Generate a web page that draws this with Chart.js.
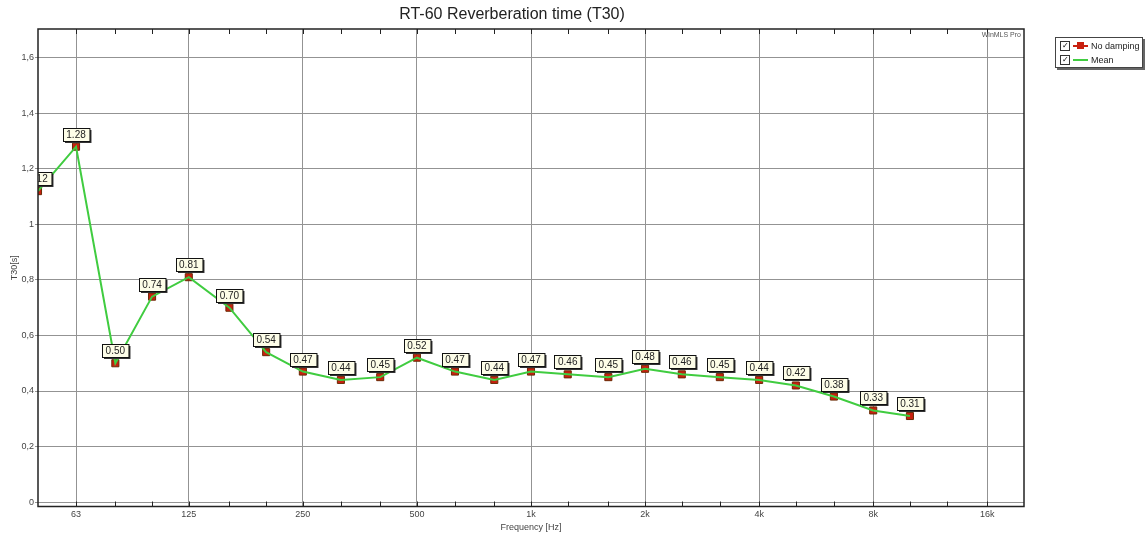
<!DOCTYPE html>
<html>
<head>
<meta charset="utf-8">
<title>RT-60 Reverberation time (T30)</title>
<script src="https://cdn.jsdelivr.net/npm/chart.js@4.4.0/dist/chart.umd.min.js"></script>
<style>
  html, body { margin: 0; padding: 0; background: #fff; }
  .wrap { position: relative; width: 1145px; height: 535px; }
  #rtChart { display: block; }
  .legend {
    position: absolute; left: 1055px; top: 37px; width: 86px; height: 29px;
    border: 1px solid #444; background: #fff; box-shadow: 2px 2px 0 #666;
    font: 9px "Liberation Sans", Arial, sans-serif; color: #222;
  }
  .legend-row { display: flex; align-items: center; height: 13px; padding-left: 4px; margin-top: 1px; }
  .check {
    width: 8px; height: 8px; border: 1px solid #333; font-size: 8px; line-height: 8px;
    text-align: center; margin-right: 3px; color: #000;
  }
  .swatch { position: relative; width: 15px; height: 9px; margin-right: 3px; }
  .swatch .ln { position: absolute; left: 0; right: 0; top: 4px; height: 2px; }
  .swatch .sq { position: absolute; left: 4px; top: 1px; width: 7px; height: 7px; background: #c8200f; }
</style>
</head>
<body>
<div class="wrap">
  <canvas id="rtChart" width="1145" height="535"></canvas>
  <div class="legend">
    <div class="legend-row"><span class="check">✓</span><span class="swatch"><span class="ln" style="background:#c8200f"></span><span class="sq"></span></span>No damping</div>
    <div class="legend-row"><span class="check">✓</span><span class="swatch"><span class="ln" style="background:#40cc40"></span></span>Mean</div>
  </div>
</div>
<script>
// Third-octave band centre frequencies (Hz)
const freqs = [50, 63, 80, 100, 125, 160, 200, 250, 315, 400, 500, 630, 800, 1000,
               1250, 1600, 2000, 2500, 3150, 4000, 5000, 6300, 8000, 10000];
// T30 values [s]
const t30NoDamping = [1.12, 1.28, 0.50, 0.74, 0.81, 0.70, 0.54, 0.47, 0.44, 0.45, 0.52, 0.47,
                      0.44, 0.47, 0.46, 0.45, 0.48, 0.46, 0.45, 0.44, 0.42, 0.38, 0.33, 0.31];
const t30Mean = [1.12, 1.28, 0.50, 0.74, 0.81, 0.70, 0.54, 0.47, 0.44, 0.45, 0.52, 0.47,
                 0.44, 0.47, 0.46, 0.45, 0.48, 0.46, 0.45, 0.44, 0.42, 0.38, 0.33, 0.31];

const octaveTicks = [63, 125, 250, 500, 1000, 2000, 4000, 8000, 16000];
const octaveLabels = ['63', '125', '250', '500', '1k', '2k', '4k', '8k', '16k'];
const minorTicks = [80, 100, 160, 200, 315, 400, 630, 800, 1250, 1600, 2500, 3150,
                    5000, 6300, 10000, 12500];
const yTicks = [0, 0.2, 0.4, 0.6, 0.8, 1, 1.2, 1.4, 1.6];

const FONT = '"Liberation Sans", Arial, sans-serif';

// Frame, minor ticks, watermark
const framePlugin = {
  id: 'frame',
  afterDraw(chart) {
    const { ctx, chartArea: a } = chart;
    const xs = chart.scales.x;
    ctx.save();
    ctx.strokeStyle = '#222';
    ctx.lineWidth = 1;
    minorTicks.concat(octaveTicks).forEach(f => {
      const px = Math.round(xs.getPixelForValue(f)) + 0.5;
      ctx.beginPath();
      ctx.moveTo(px, a.top); ctx.lineTo(px, a.top + 5);
      ctx.moveTo(px, a.bottom); ctx.lineTo(px, a.bottom - 5);
      ctx.stroke();
    });
    ctx.lineWidth = 1.5;
    ctx.strokeStyle = '#222';
    ctx.strokeRect(a.left, a.top, a.right - a.left, a.bottom - a.top);
    ctx.fillStyle = '#555';
    ctx.font = '7px ' + FONT;
    ctx.textAlign = 'right';
    ctx.textBaseline = 'top';
    ctx.fillText('WinMLS Pro', a.right - 3, a.top + 3);
    ctx.restore();
  }
};

// Value boxes above each point
const valueBoxPlugin = {
  id: 'valueBoxes',
  afterDatasetsDraw(chart) {
    const { ctx, chartArea: a } = chart;
    const meta = chart.getDatasetMeta(0);
    ctx.save();
    ctx.beginPath();
    ctx.rect(a.left, a.top, a.right - a.left, a.bottom - a.top);
    ctx.clip();
    ctx.font = '10px ' + FONT;
    ctx.textAlign = 'center';
    ctx.textBaseline = 'middle';
    meta.data.forEach((pt, i) => {
      const txt = t30NoDamping[i].toFixed(2);
      const w = ctx.measureText(txt).width + 7;
      const h = 13;
      const x = Math.round(pt.x - w / 2) + 0.5;
      const y = Math.round(pt.y - 6 - h) + 0.5;
      ctx.fillStyle = '#333';
      ctx.fillRect(x + 1.5, y + 1.5, w, h);
      ctx.fillStyle = '#fdfde8';
      ctx.fillRect(x, y, w, h);
      ctx.strokeStyle = '#111';
      ctx.lineWidth = 1;
      ctx.strokeRect(x, y, w, h);
      ctx.fillStyle = '#222';
      ctx.fillText(txt, pt.x, y + h / 2 + 0.5);
    });
    ctx.restore();
  }
};

const ctx = document.getElementById('rtChart').getContext('2d');
new Chart(ctx, {
  type: 'line',
  data: {
    datasets: [
      {
        label: 'No damping',
        data: freqs.map((f, i) => ({ x: f, y: t30NoDamping[i] })),
        showLine: false,
        pointStyle: 'rect',
        pointRadius: 5,
        pointBackgroundColor: '#c8200f',
        pointBorderColor: '#6a2a05',
        pointBorderWidth: 1,
        order: 2
      },
      {
        label: 'Mean',
        data: freqs.map((f, i) => ({ x: f, y: t30Mean[i] })),
        borderColor: '#40cc40',
        borderWidth: 2,
        pointRadius: 0,
        tension: 0,
        order: 1
      }
    ]
  },
  options: {
    responsive: false,
    animation: false,
    layout: { padding: { left: 0, right: 121, top: 0, bottom: 0 } },
    plugins: {
      legend: { display: false },
      tooltip: { enabled: false },
      title: {
        display: true,
        text: 'RT-60 Reverberation time (T30)',
        color: '#222',
        font: { family: FONT, size: 16, weight: 'normal', lineHeight: 1.2 },
        padding: { top: 5, bottom: 4.8 }
      }
    },
    scales: {
      x: {
        type: 'logarithmic',
        min: 50,
        max: 20000,
        afterBuildTicks: s => { s.ticks = octaveTicks.map(v => ({ value: v })); },
        afterFit: s => { s.height = 28.5; },
        ticks: {
          autoSkip: false,
          maxRotation: 0,
          padding: 3,
          color: '#444',
          font: { family: FONT, size: 9 },
          callback: (v) => octaveLabels[octaveTicks.indexOf(v)] || ''
        },
        grid: { color: '#939393', lineWidth: 1, drawTicks: false },
        border: { display: false },
        title: {
          display: true,
          text: 'Frequency [Hz]',
          color: '#444',
          font: { family: FONT, size: 9, lineHeight: 1.2 },
          padding: { top: 0, bottom: 1.6 }
        }
      },
      y: {
        min: -0.016,
        max: 1.704,
        afterBuildTicks: s => { s.ticks = yTicks.map(v => ({ value: v })); },
        afterFit: s => { s.width = 38; },
        ticks: {
          padding: 1,
          color: '#444',
          font: { family: FONT, size: 9 },
          callback: v => String(Math.round(v * 10) / 10).replace('.', ',')
        },
        grid: { color: '#939393', lineWidth: 1, drawTicks: true, tickLength: 3 },
        border: { display: false },
        title: {
          display: true,
          text: 'T30[s]',
          color: '#444',
          font: { family: FONT, size: 9, lineHeight: 1.2 },
          padding: { top: 9.6, bottom: 0 }
        }
      }
    }
  },
  plugins: [framePlugin, valueBoxPlugin]
});
</script>
</body>
</html>
